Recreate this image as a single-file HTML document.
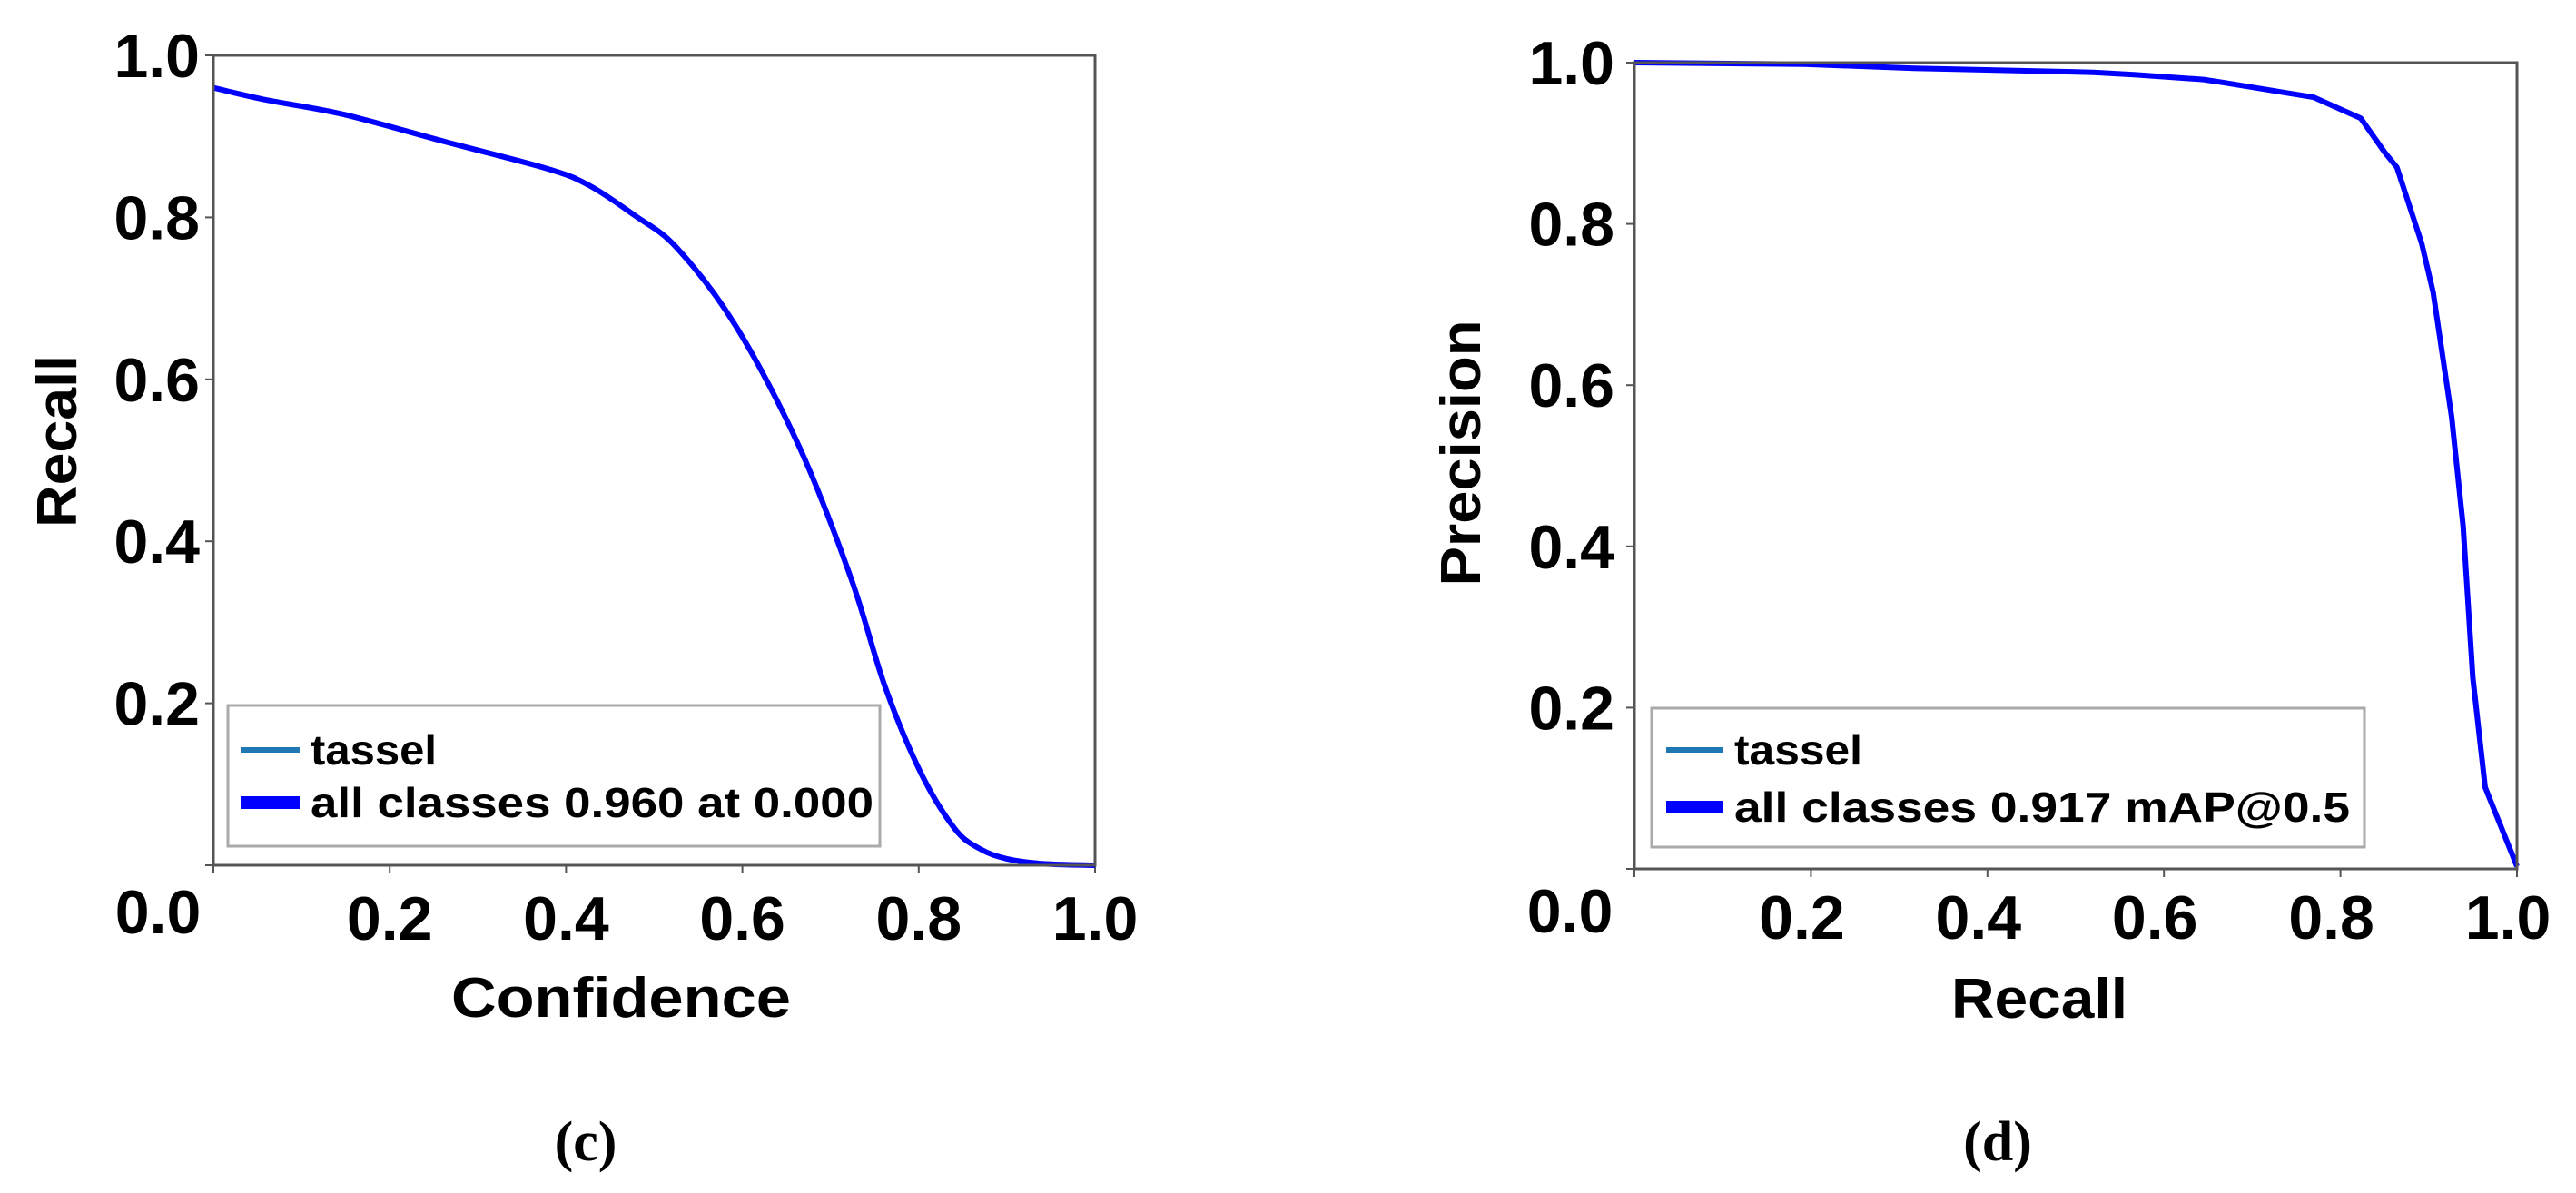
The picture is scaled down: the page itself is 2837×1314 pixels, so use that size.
<!DOCTYPE html>
<html><head><meta charset="utf-8"><style>
html,body{margin:0;padding:0;background:#fff;}
svg{display:block;}
text{font-family:"Liberation Sans",sans-serif;font-weight:bold;fill:#000;}
</style></head><body>
<svg id="fig" width="2837" height="1314" viewBox="0 0 2837 1314" xmlns="http://www.w3.org/2000/svg"></svg>
<script>
// ---- data: panel (c) recall-confidence ----
const rcConfidence = [0, 0.06, 0.148, 0.264, 0.379, 0.427, 0.477, 0.526, 0.593, 0.664, 0.723, 0.762, 0.802, 0.841, 0.87, 0.90, 0.94, 1.0];
const rcRecall     = [0.96, 0.945, 0.927, 0.893, 0.86, 0.839, 0.803, 0.762, 0.665, 0.518, 0.355, 0.22, 0.115, 0.045, 0.02, 0.008, 0.002, 0.0];
// ---- data: panel (d) precision-recall ----
const prRecall    = [0, 0.193, 0.317, 0.52, 0.566, 0.645, 0.669, 0.77, 0.823, 0.85, 0.864, 0.892, 0.905, 0.926, 0.939, 0.95, 0.964, 1.0];
const prPrecision = [1.0, 0.998, 0.993, 0.988, 0.985, 0.979, 0.975, 0.957, 0.931, 0.889, 0.870, 0.776, 0.715, 0.560, 0.425, 0.237, 0.101, 0.003];
const tickValues = [0, 0.2, 0.4, 0.6, 0.8, 1.0];
const tickLabels = ["0.0", "0.2", "0.4", "0.6", "0.8", "1.0"];

const NS = "http://www.w3.org/2000/svg";
const svg = document.getElementById("fig");
function mk(tag, attrs, parent, txt){
  const e = document.createElementNS(NS, tag);
  for (const k in attrs) e.setAttribute(k, attrs[k]);
  if (txt !== undefined) e.textContent = txt;
  (parent || svg).appendChild(e);
  return e;
}
function smoothPath(p){
  let d = "M" + p[0][0].toFixed(1) + "," + p[0][1].toFixed(1);
  for (let i = 0; i < p.length - 1; i++) {
    const p0 = p[Math.max(0, i - 1)], p1 = p[i], p2 = p[i + 1], p3 = p[Math.min(p.length - 1, i + 2)];
    const c1x = p1[0] + (p2[0] - p0[0]) / 6, c1y = p1[1] + (p2[1] - p0[1]) / 6;
    const c2x = p2[0] - (p3[0] - p1[0]) / 6, c2y = p2[1] - (p3[1] - p1[1]) / 6;
    d += " C" + c1x.toFixed(1) + "," + c1y.toFixed(1) + " " + c2x.toFixed(1) + "," + c2y.toFixed(1) + " " + p2[0].toFixed(1) + "," + p2[1].toFixed(1);
  }
  return d;
}

function panel(cfg){
  const g = mk("g", {});
  
  
  const X = v => cfg.x0 + v * (cfg.x1 - cfg.x0);
  const Y = v => cfg.y0 + v * (cfg.y1 - cfg.y0);
  tickValues.forEach((v, i) => {
    const tx = mk("line", {x1: X(v), y1: cfg.y0, x2: X(v), y2: cfg.y0 + 9, stroke: "#555", "stroke-width": 2}, g);
    
    
    const ty = mk("line", {x1: cfg.x0 - 9, y1: Y(v), x2: cfg.x0, y2: Y(v), stroke: "#555", "stroke-width": 2}, g);
    
    
    const xl = mk("text", {x: i === 0 ? cfg.x0 - cfg.zeroShift : X(v) - cfg.xLabShift, y: i === 0 ? cfg.xLabBase - 7 : cfg.xLabBase, "font-size": 68, "text-anchor": "middle"}, g, tickLabels[i]);
    
    
    if (i > 0) {
      const yl = mk("text", {x: cfg.x0 - cfg.yLabGap, y: Y(v) + 24, "font-size": 68, "text-anchor": "end"}, g, tickLabels[i]);
      
      
    }
  });
  const pts = cfg.xs.map((v, i) => [X(v), Y(cfg.ys[i])]);
  let curve;
  if (cfg.smooth) {
    curve = mk("path", {d: smoothPath(pts), fill: "none", stroke: "#0000ff", "stroke-width": 6, "stroke-linejoin": "round"}, g);
  } else {
    curve = mk("polyline", {points: pts.map(p => p[0].toFixed(1) + "," + p[1].toFixed(1)).join(" "), fill: "none", stroke: "#0000ff", "stroke-width": 6, "stroke-linejoin": "round"}, g);
  }
  
  
  const fr = mk("rect", {x: cfg.x0, y: cfg.y1, width: cfg.x1 - cfg.x0, height: cfg.y0 - cfg.y1, fill: "none", stroke: "#555", "stroke-width": 3}, g);
  
  
  const L = cfg.leg;
  const lg = mk("g", {}, g);
  
  
  mk("rect", {x: L.x, y: L.y, width: L.w, height: L.h, fill: "#fff", stroke: "#aaa", "stroke-width": 3}, lg);
  const h1 = mk("line", {x1: L.hx0, y1: L.r1, x2: L.hx1, y2: L.r1, stroke: "#1f77b4", "stroke-width": 6}, lg);
  
  
  mk("text", {x: L.tx, y: L.r1 + 16, "font-size": 46, textLength: L.w1, lengthAdjust: "spacingAndGlyphs"}, lg, "tassel");
  const h2 = mk("line", {x1: L.hx0, y1: L.r2, x2: L.hx1, y2: L.r2, stroke: "#0000ff", "stroke-width": 14}, lg);
  
  
  mk("text", {x: L.tx, y: L.r2 + 16, "font-size": 46, textLength: L.w2, lengthAdjust: "spacingAndGlyphs"}, lg, L.label);
  const xt = mk("text", {x: cfg.xt.x, y: cfg.xt.y, "font-size": 62, "text-anchor": "middle", textLength: cfg.xt.w, lengthAdjust: "spacingAndGlyphs"}, g, cfg.xt.t);
  
  
  const yt = mk("text", {x: 0, y: 0, "font-size": 62, "text-anchor": "middle", textLength: cfg.yt.w, lengthAdjust: "spacingAndGlyphs", transform: `translate(${cfg.yt.x},${cfg.yt.y}) rotate(-90)`}, g, cfg.yt.t);
  
  
  const cap = mk("text", {x: cfg.cap.x, y: 1278, "font-size": 62, "text-anchor": "middle", style: "font-family:'Liberation Serif',serif"}, g, cfg.cap.t);
  
  
}

panel({name: "recall-confidence-chart", x0: 235, x1: 1206, y0: 953, y1: 61, smooth: true,
  xs: rcConfidence, ys: rcRecall, xLabBase: 1035, zeroShift: 61, xLabShift: 0, yLabGap: 15,
  leg: {x: 251, y: 777, w: 718, h: 155, hx0: 265, hx1: 330, tx: 342, r1: 826, r2: 884, w1: 139, w2: 620, label: "all classes 0.960 at 0.000"},
  xt: {x: 684, y: 1120, w: 374, t: "Confidence"},
  yt: {x: 84, y: 486, w: 190, t: "Recall"},
  cap: {x: 645, t: "(c)"}});

panel({name: "precision-recall-chart", x0: 1800, x1: 2772, y0: 957, y1: 69, smooth: false,
  xs: prRecall, ys: prPrecision, xLabBase: 1034, zeroShift: 71, xLabShift: 10, yLabGap: 22,
  leg: {x: 1819, y: 780, w: 785, h: 153, hx0: 1835, hx1: 1898, tx: 1910, r1: 826, r2: 889, w1: 141, w2: 678, label: "all classes 0.917 mAP@0.5"},
  xt: {x: 2246, y: 1121, w: 194, t: "Recall"},
  yt: {x: 1630, y: 499, w: 293, t: "Precision"},
  cap: {x: 2200, t: "(d)"}});
</script>
</body></html>
